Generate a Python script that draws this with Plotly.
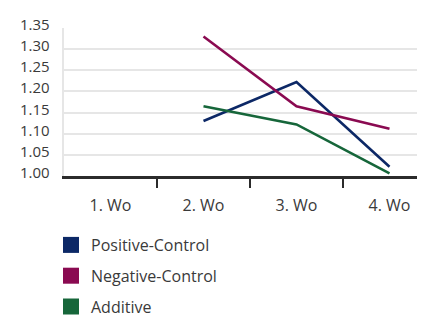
import plotly.graph_objects as go

categories = ["1. Wo", "2. Wo", "3. Wo", "4. Wo"]
positive_control = [None, 1.13, 1.222, 1.022]
negative_control = [None, 1.33, 1.165, 1.112]
additive = [None, 1.165, 1.122, 1.006]
y_ticks = [1.00, 1.05, 1.10, 1.15, 1.20, 1.25, 1.30, 1.35]
y_tick_labels = ["1.00", "1.05", "1.10", "1.15", "1.20", "1.25", "1.30", "1.35"]

series = [
    ("Positive-Control", positive_control, "#0c2866"),
    ("Negative-Control", negative_control, "#8a0a51"),
    ("Additive", additive, "#16663a"),
]

FONT = "Open Sans"
TXT = "#3a3a3a"
FS = 16
xpos = list(range(len(categories)))

fig = go.Figure()
for i, (name, vals, color) in enumerate(series):
    fig.add_trace(go.Scatter(
        x=xpos, y=vals, mode="lines", name=name,
        line=dict(color=color, width=2.6),
        showlegend=False, connectgaps=False,
    ))
for i, (name, vals, color) in enumerate(series):
    fig.add_trace(go.Scatter(
        x=[None], y=[None], mode="markers", name=name,
        marker=dict(symbol="square", size=16, color=color),
        legendgroup=name, showlegend=True,
    ))
# invisible trace on second x-axis for boundary tick marks
fig.add_trace(go.Scatter(x=[None], y=[None], xaxis="x2", showlegend=False))

# the page body adds an 8px margin, so the figure is 8px smaller than the window
W, H = 417, 308
ml, mr, mt, mb = 56, 0, 20, 140
pw = W - ml - mr
xr = [-0.5, -0.5 + pw / 93.0]

annotations = []
for v, t in zip(y_ticks, y_tick_labels):
    annotations.append(dict(
        x=(10 - ml) / pw, xref="paper", xanchor="left",
        y=v, yref="y", yanchor="middle", yshift=4,
        text=t, showarrow=False,
        font=dict(family=FONT, size=15, color=TXT),
    ))

fig.update_layout(
    width=W, height=H,
    margin=dict(l=ml, r=mr, t=mt, b=mb, pad=0, autoexpand=False),
    paper_bgcolor="white", plot_bgcolor="white",
    font=dict(family=FONT, size=FS, color=TXT),
    xaxis=dict(
        range=xr, tickvals=xpos, ticktext=categories,
        ticks="", showgrid=False, zeroline=False,
        showline=True, linecolor="#2b2b2b", linewidth=3,
        tickfont=dict(family=FONT, size=FS, color=TXT),
        ticklabelstandoff=13, fixedrange=True, automargin=False,
    ),
    xaxis2=dict(
        overlaying="x", matches="x", side="bottom", anchor="y",
        tickvals=[0.5, 1.5, 2.5], ticks="outside", ticklen=11,
        tickwidth=2, tickcolor="#2b2b2b", showticklabels=False,
        showgrid=False, zeroline=False, showline=False, automargin=False,
    ),
    yaxis=dict(
        range=[1.0, 1.35], tickvals=y_ticks, showticklabels=False,
        ticks="", showgrid=True, gridcolor="#e6e6e6", gridwidth=1.5,
        zeroline=False, showline=True, linecolor="#e6e6e6", linewidth=1.5,
        mirror=False, automargin=False,
    ),
    legend=dict(
        orientation="v", x=43 / W, xref="container", xanchor="left",
        y=(H - 220) / H, yref="container", yanchor="top",
        font=dict(family=FONT, size=FS, color=TXT),
        tracegroupgap=7, itemsizing="trace", bgcolor="rgba(0,0,0,0)",
    ),
    annotations=annotations,
    showlegend=True,
)

fig.write_html("out.html")
